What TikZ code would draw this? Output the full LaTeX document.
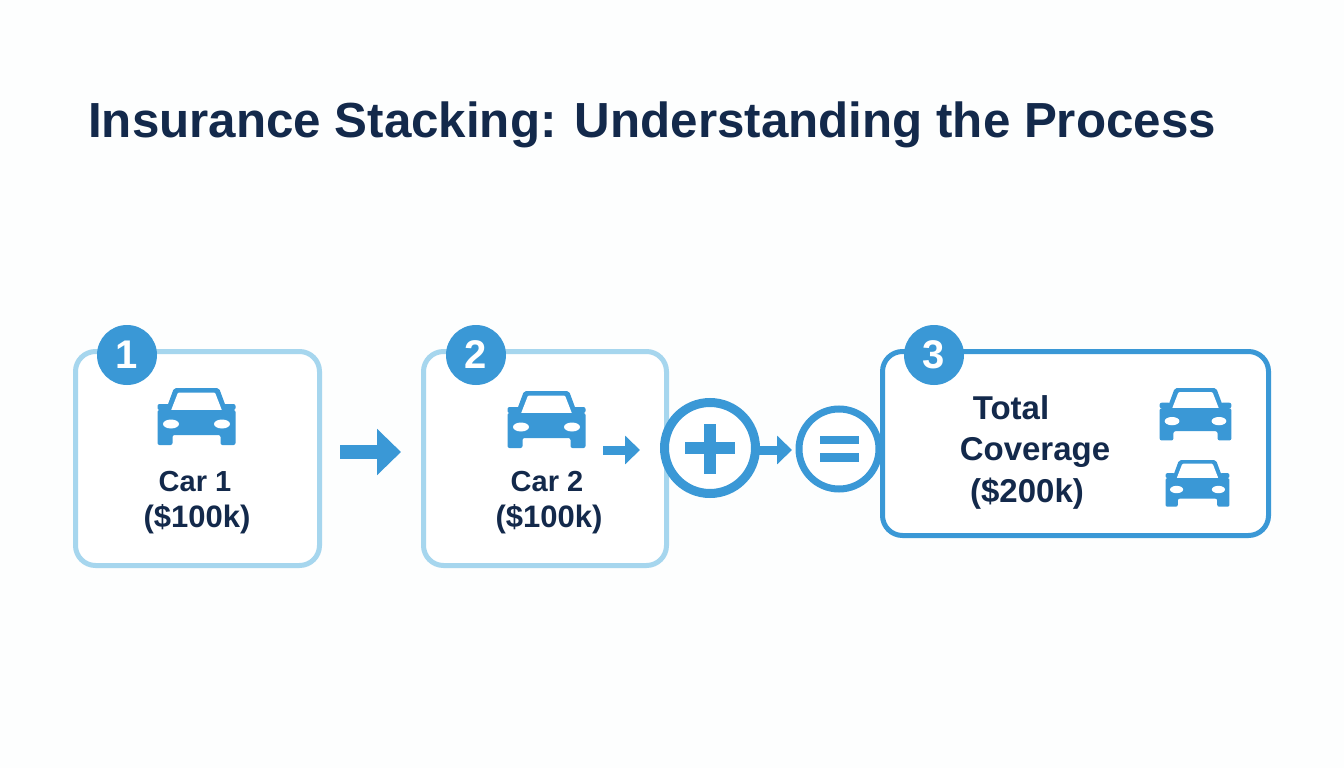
\documentclass[tikz,border=0pt]{standalone}
\usepackage{xcolor}
\usepackage{fontspec}
\setmainfont{Liberation Sans}
\usepackage{tikz}
\usetikzlibrary{arrows.meta, positioning}
\definecolor{pagecol}{HTML}{FDFEFE}
\definecolor{inkcol}{HTML}{13294B}
\definecolor{bluecol}{HTML}{3A98D6}
\definecolor{palecol}{HTML}{A6D6EE}
\tikzset{%
	stepbox/.style={draw, rectangle, line width=5pt, rounded corners=20pt, fill=white, inner sep=0pt},
	badge/.style={circle, fill=bluecol, text=white, minimum size=60pt, inner sep=0pt,%
		font=\bfseries\fontsize{40}{40}\selectfont},
	label/.style={text=inkcol, inner sep=0pt, anchor=base, font=\bfseries\fontsize{29}{32}\selectfont},
	costlabel/.style={label, font=\bfseries\fontsize{31}{34}\selectfont},
	biglabel/.style={label, font=\bfseries\fontsize{33}{36}\selectfont},
	opcircle/.style={draw=bluecol, circle, fill=white, inner sep=0pt},
	blockarrow/.style={draw=bluecol, line width=#1}
}
% centre x, top y, scale
\newcommand\caricon[3]{%
	\begin{scope}[shift={(#1,#2)}, scale=#3]
		\fill[bluecol, rounded corners=2pt] (-31,23) -- (-22.5,0) -- (22.5,0) -- (31,23) -- cycle;
		\fill[white, rounded corners=1pt] (-25.5,22.5) -- (-18.5,4.5) -- (18.5,4.5) -- (25.5,22.5) -- cycle;
		\fill[bluecol, rounded corners=2pt] (-39,16) rectangle (-27,22);
		\fill[bluecol, rounded corners=2pt] (27,16) rectangle (39,22);
		\fill[bluecol, rounded corners=2pt] (-39,22) -- (39,22) -- (39,57) -- (24,57) -- (24,47) -- (-24,47) -- (-24,57) -- (-39,57) -- cycle;
		\fill[white] (-25.5,36) ellipse (8 and 4.5);
		\fill[white] (25.5,36) ellipse (8 and 4.5);
	\end{scope}
}

\begin{document}
\begin{tikzpicture}[x=1pt, y=-1pt]
  \useasboundingbox[fill=pagecol] (0,0) rectangle (1344,768);

  \node[text=inkcol, anchor=base west, inner sep=0pt, font=\bfseries\fontsize{49.3}{56}\selectfont] (title) at (88,137) {Insurance Stacking: Understanding the Process};

  \node[stepbox, draw=palecol, minimum width=244pt, minimum height=214pt] (box1) at (197.5,458.5) {};
  \node[stepbox, draw=palecol, minimum width=243pt, minimum height=214pt] (box2) at (545,458.5) {};
  \node[stepbox, draw=bluecol, minimum width=386pt, minimum height=184pt] (box3) at (1075.5,443.5) {};

  \node[badge] (badge1) at (127,355) {1};
  \node[badge] (badge2) at (476,355) {2};
  \node[badge] (badge3) at (934,355) {3};

  \caricon{196.5}{388}{1}
  \caricon{546.5}{391}{1}
  \caricon{1195.5}{388}{0.92}
  \caricon{1197.5}{460}{0.82}

  \node[label] (car1) at (195,491) {Car 1};
  \node[costlabel] (cost1) at (197,527) {(\$100k)};
  \node[label] (car2) at (547,491) {Car 2};
  \node[costlabel] (cost2) at (549,527) {(\$100k)};
  \node[biglabel] (total) at (1011,419) {Total};
  \node[biglabel] (coverage) at (1035,460) {Coverage};
  \node[biglabel] (cost3) at (1027,502) {(\$200k)};

  \coordinate (a1) at (340,452);
  \coordinate (b1) at (401,452);
  \coordinate (a2) at (603,450);
  \coordinate (b2) at (640,450);
  \coordinate (b3) at (792,450);
  \draw[blockarrow=14pt, -{Triangle[length=24pt, width=45pt, fill=bluecol]}] (a1) -- (b1);
  \draw[blockarrow=9pt, -{Triangle[length=15pt, width=28pt, fill=bluecol]}] (a2) -- (b2);

  \node[opcircle, line width=9pt, minimum size=91pt] (plus) at (710,448) {};
  \node[opcircle, line width=7pt, minimum size=80pt] (equal) at (839,449) {};
  \draw[blockarrow=9pt, -{Triangle[length=15pt, width=28pt, fill=bluecol]}] (plus.east) ++(-2,2) -- (b3);

  % plus and equals signs
  \fill[bluecol] (685,442) rectangle (735,454);
  \fill[bluecol] (704,424) rectangle (716,474);
  \fill[bluecol] (820,436) rectangle (859,444);
  \fill[bluecol] (820,453) rectangle (859,462);
\end{tikzpicture}
\end{document}
